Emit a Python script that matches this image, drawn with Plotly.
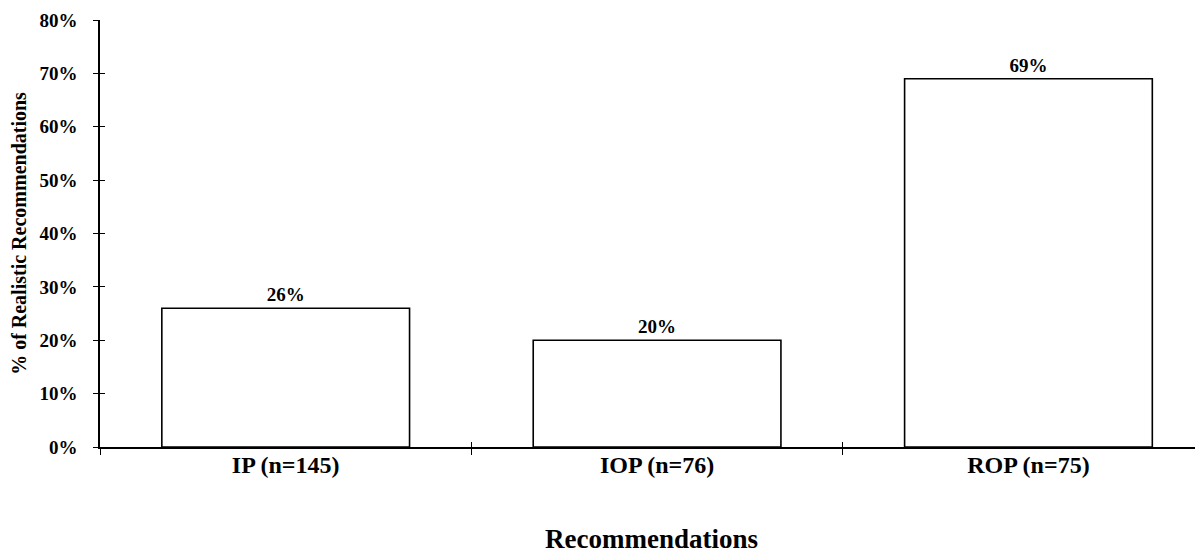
import plotly.graph_objects as go

categories = ["IP (n=145)", "IOP (n=76)", "ROP (n=75)"]
values = [26, 20, 69]
y_ticks = [0, 10, 20, 30, 40, 50, 60, 70, 80]
boundaries = [-0.5, 0.5, 1.5]

FONT = "Liberation Serif"
x_range = [-0.5, 2.47]

fig = go.Figure()
fig.add_trace(go.Bar(
    x=list(range(len(categories))), y=values,
    width=0.667,
    marker=dict(color="white", line=dict(color="black", width=1.6)),
    text=["<b>%d%%</b>" % v for v in values], texttemplate="%{text}",
    textposition="outside",
    textfont=dict(family=FONT, size=19, color="black"),
    cliponaxis=False, showlegend=False, hoverinfo="skip",
))
# helper traces to show crossing tick marks
fig.add_trace(go.Scatter(x=[None], y=[None], xaxis="x2", yaxis="y2", showlegend=False))
fig.add_trace(go.Scatter(x=[None], y=[None], xaxis="x3", yaxis="y2", showlegend=False))

fig.update_layout(
    width=1195, height=546,
    margin=dict(l=92, r=0, t=12, b=107),
    paper_bgcolor="white", plot_bgcolor="rgba(0,0,0,0)",
    font=dict(family=FONT, color="black"),
    xaxis=dict(
        range=x_range, showline=True, linecolor="black", linewidth=1.5,
        tickvals=list(range(len(categories))),
        ticktext=["<b>%s</b>" % c for c in categories],
        ticks="", tickfont=dict(family=FONT, size=24, color="black"),
        ticklabelstandoff=-5, automargin=False,
        showgrid=False, zeroline=False,
        title=dict(text="<b>Recommendations</b>", font=dict(family=FONT, size=27, color="black"), standoff=56),
    ),
    xaxis2=dict(
        overlaying="x", range=x_range, tickvals=boundaries, ticks="outside",
        ticklen=7, tickwidth=1.3, tickcolor="black", showticklabels=False,
        showgrid=False, zeroline=False, showline=False, automargin=False,
    ),
    xaxis3=dict(
        overlaying="x", range=x_range, tickvals=boundaries, ticks="inside",
        ticklen=5, tickwidth=1.3, tickcolor="black", showticklabels=False,
        showgrid=False, zeroline=False, showline=False, automargin=False,
    ),
    yaxis=dict(
        range=[0, 80], tickvals=y_ticks, tickmode="array",
        ticktext=["<b>%d%%</b>" % v for v in y_ticks],
        showline=True, linecolor="black", linewidth=1.5,
        ticks="outside", ticklen=5, tickwidth=1.3, tickcolor="black",
        tickfont=dict(family=FONT, size=19, color="black"),
        ticklabelstandoff=12, automargin=False,
        showgrid=False, zeroline=False,
        title=dict(text="<b>% of Realistic Recommendations</b>", font=dict(family=FONT, size=20, color="black"), standoff=13),
    ),
    yaxis2=dict(
        overlaying="y", range=[0, 80], tickvals=y_ticks, ticks="inside",
        ticklen=5, tickwidth=1.3, tickcolor="black", showticklabels=False,
        showgrid=False, zeroline=False, showline=False, automargin=False,
    ),
)

fig.write_html("out.html")
